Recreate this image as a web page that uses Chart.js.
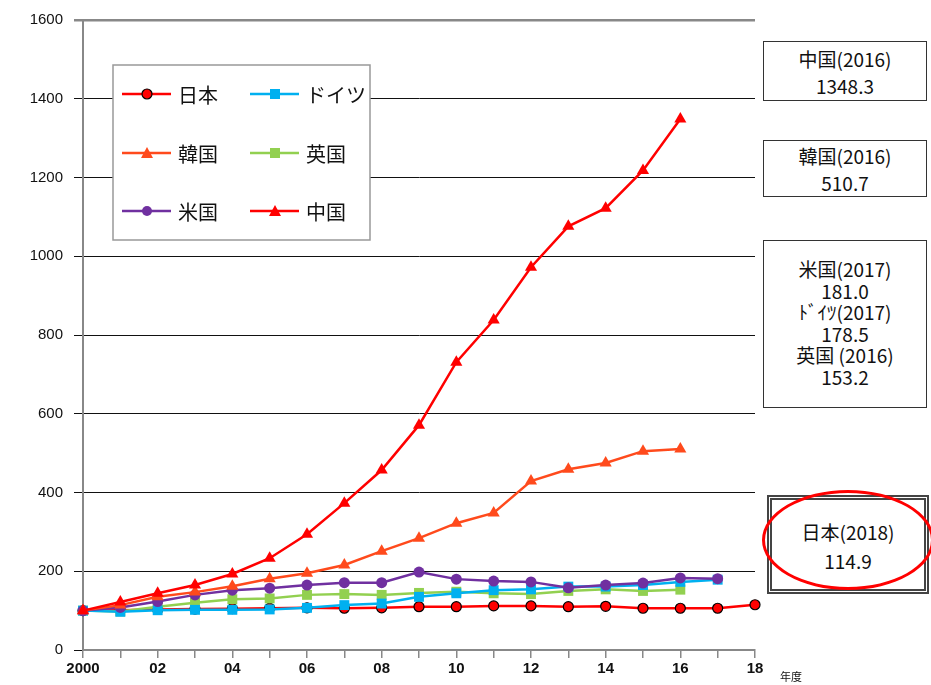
<!DOCTYPE html>
<html>
<head>
<meta charset="utf-8">
<script src="https://cdn.jsdelivr.net/npm/chart.js@4"></script>
<style>
  body { margin: 0; background: #fff; }
  #wrap { position: relative; width: 931px; height: 685px; }
  .box { position: absolute; border: 1.5px solid #333; background: #fff; text-align: center;
         font-family: "Noto Sans CJK JP", "Liberation Sans", sans-serif; font-size: 19px; color: #111; box-sizing: border-box; }
  .unit { position: absolute; font-family: "Noto Sans CJK JP", sans-serif; font-size: 11px; color: #111; }
  #ellipse { position: absolute; left: 762px; top: 490px; width: 172px; height: 100px;
             border: 3px solid #f00; border-radius: 50%; box-sizing: border-box; }
</style>
</head>
<body>
<div id="wrap">
  <canvas id="chart" width="931" height="685"></canvas>
  <div class="box" style="left:763px;top:41px;width:164px;height:60px;line-height:27px;padding-top:3px;">中国(2016)<br>1348.3</div>
  <div class="box" style="left:763px;top:140px;width:164px;height:57px;line-height:27px;padding-top:1px;">韓国(2016)<br>510.7</div>
  <div class="box" style="left:763px;top:240px;width:164px;height:168px;line-height:21.5px;padding-top:17px;">米国(2017)<br>181.0<br>ﾄﾞｲﾂ(2017)<br>178.5<br>英国 (2016)<br>153.2</div>
  <div class="box" style="left:767px;top:495px;width:162px;height:99px;border:5px double #444;line-height:29px;padding-top:17px;">日本(2018)<br>114.9</div>
  <div id="ellipse"></div>
  <div class="unit" style="left:780px;top:668px;">年度</div>
</div>
<script>
const years = ['2000','01','02','03','04','05','06','07','08','09','10','11','12','13','14','15','16','17','18'];
const yTicks = [0, 200, 400, 600, 800, 1000, 1200, 1400, 1600];

const japan   = [100,101,103,104,105,106,107,106,107,110,110,112,112,110,111,106,106,106,114.9];
const germany = [100,97,101,102,102,103,107,114,118,135,144,152,154,161,161,165,173,178.5,null];
const korea   = [100,114,135,147,162,181,195,216,251,284,322,348,429,459,475,505,510.7,null,null];
const uk      = [100,98,110,120,129,131,140,142,140,145,148,144,142,150,154,150,153.2,null,null];
const usa     = [100,108,123,140,152,157,165,171,171,198,180,175,173,158,165,170,183,181.0,null];
const china   = [100,122,144,165,193,233,294,373,457,571,731,838,972,1076,1122,1218,1348.3,null,null];

const names = ['日本','ドイツ','韓国','英国','米国','中国'];
const colors = ['#ff0000','#00b0f0','#ff4a1c','#92d050','#7030a0','#ff0000'];
const styles = ['circle','rect','triangle','rect','circle','triangle'];

function ds(i, data, order, radius) {
  return {
    label: names[i], data: data, order: order,
    borderColor: colors[i], backgroundColor: colors[i],
    pointBackgroundColor: colors[i],
    pointBorderColor: i === 0 ? '#000' : colors[i],
    pointBorderWidth: i === 0 ? 1.2 : 0,
    pointStyle: styles[i], pointRadius: radius,
    borderWidth: 2.5, tension: 0, spanGaps: false
  };
}

// legend drawn by hand to keep the 2-column boxed layout
const boxLegend = {
  id: 'boxLegend',
  afterDraw(chart) {
    const ctx = chart.ctx;
    ctx.save();
    ctx.fillStyle = '#fff';
    ctx.fillRect(113, 65, 257, 175);
    ctx.strokeStyle = '#999';
    ctx.lineWidth = 1.5;
    ctx.strokeRect(113, 65, 257, 175);
    const rows = [94, 153, 211];
    const cols = [122, 250];
    names.forEach((name, k) => {
      const x = cols[k % 2], y = rows[Math.floor(k / 2)];
      const d = chart.data.datasets[k];
      ctx.strokeStyle = colors[k];
      ctx.lineWidth = 2.5;
      ctx.beginPath(); ctx.moveTo(x, y); ctx.lineTo(x + 49, y); ctx.stroke();
      ctx.fillStyle = colors[k];
      ctx.strokeStyle = d.pointBorderColor;
      ctx.lineWidth = d.pointBorderWidth;
      ctx.beginPath();
      if (styles[k] === 'circle') ctx.arc(x + 25, y, 5, 0, Math.PI * 2);
      else if (styles[k] === 'rect') ctx.rect(x + 25 - 5, y - 5, 10, 10);
      else { ctx.moveTo(x + 25, y - 6); ctx.lineTo(x + 31, y + 5); ctx.lineTo(x + 19, y + 5); ctx.closePath(); }
      ctx.fill();
      if (d.pointBorderWidth) ctx.stroke();
      ctx.fillStyle = '#111';
      ctx.font = '20px "Noto Sans CJK JP", sans-serif';
      ctx.textBaseline = 'middle';
      ctx.fillText(name, x + 56, y + 1);
    });
    ctx.restore();
  }
};

new Chart(document.getElementById('chart').getContext('2d'), {
  type: 'line',
  data: {
    labels: years,
    datasets: [
      ds(0, japan, 6, 5),
      ds(1, germany, 4, 7),
      ds(2, korea, 2, 7),
      ds(3, uk, 5, 7),
      ds(4, usa, 3, 5.5),
      ds(5, china, 1, 7)
    ]
  },
  options: {
    responsive: false,
    devicePixelRatio: 1,
    animation: false,
    layout: { padding: { top: 12, right: 176, bottom: 0, left: 0 } },
    plugins: { legend: { display: false }, tooltip: { enabled: false } },
    scales: {
      x: {
        type: 'category',
        offset: false,
        border: { color: '#888', width: 2 },
        grid: { drawOnChartArea: false, tickLength: 8, color: '#888', lineWidth: 1.5 },
        ticks: {
          autoSkip: false, maxRotation: 0, padding: 2, color: '#111',
          font: { family: '"Liberation Sans", Arial, sans-serif', size: 15, weight: 'bold' },
          callback: (v, i) => (i % 2 === 0 ? years[i] : '')
        },
        afterFit: s => { s.height = 35; }
      },
      y: {
        min: yTicks[0], max: yTicks[yTicks.length - 1],
        afterBuildTicks: s => { s.ticks = yTicks.map(v => ({ value: v })); },
        border: { color: '#888', width: 2 },
        grid: {
          tickLength: 9,
          color: c => (c.tick && c.tick.value === 1600 ? '#888' : '#111'),
          lineWidth: c => (c.tick && c.tick.value === 1600 ? 2.5 : 1)
        },
        ticks: {
          padding: 11, color: '#111',
          font: { family: '"Liberation Sans", Arial, sans-serif', size: 15 },
          callback: v => String(v)
        },
        afterFit: s => { s.width = 83; }
      }
    }
  },
  plugins: [boxLegend]
});
</script>
</body>
</html>
